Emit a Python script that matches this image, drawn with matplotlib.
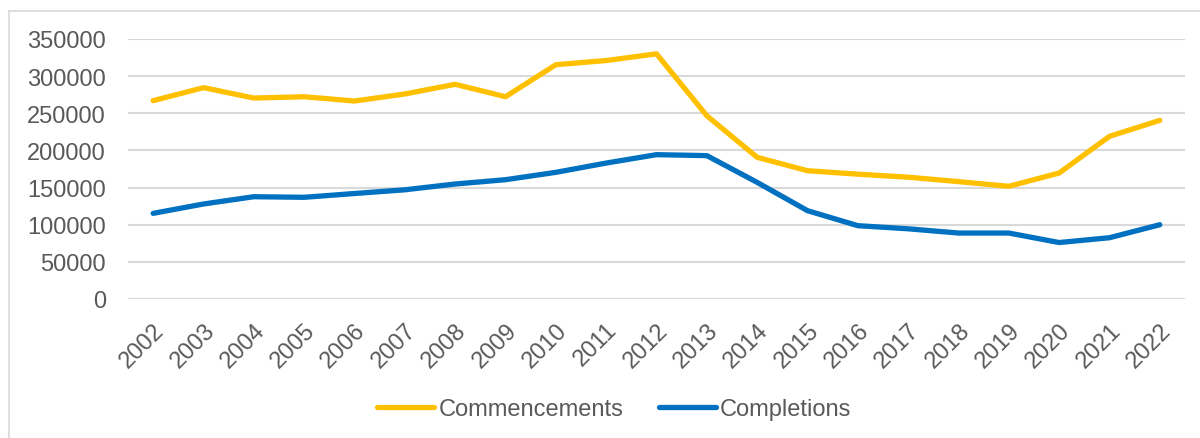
import matplotlib.pyplot as plt
from matplotlib.lines import Line2D

years = [str(y) for y in range(2002, 2023)]
commencements = [267000, 284500, 270500, 272300, 266500, 276000, 289000, 272300, 315400,
                 321000, 330000, 246700, 190700, 172700, 168000, 164000, 158000, 151700,
                 169600, 219000, 240500]
completions = [115300, 127900, 137700, 136900, 142000, 147000, 154800, 160600, 170500,
               183000, 194300, 193000, 157000, 118900, 98700, 94500, 88800, 88800,
               76000, 82500, 100000]

plt.rcParams["font.family"] = ["Liberation Sans", "DejaVu Sans"]
TXT = "#595959"

fig = plt.figure(figsize=(12, 4.39), dpi=100)
ax = fig.add_axes([128 / 1200, 1 - 300 / 439, (1185 - 128) / 1200, 260 / 439])

x = list(range(len(years)))
ax.plot(x, commencements, color="#FFC000", lw=3.8, solid_capstyle="round", label="Commencements")
ax.plot(x, completions, color="#0070C0", lw=3.8, solid_capstyle="round", label="Completions")

ax.set_xlim(-0.5, len(years) - 0.5)
ax.set_ylim(0, 350000)
ax.set_yticks(range(0, 350001, 50000))
ax.set_yticklabels([str(v) for v in range(0, 350001, 50000)], fontsize=17, color=TXT)
ax.set_xticks(x)
ax.set_xticklabels(years, fontsize=17, color=TXT, rotation=45, ha="right", va="top",
                   rotation_mode="anchor")
ax.tick_params(axis="x", length=0, pad=14)
ax.tick_params(axis="y", length=0, pad=16)
ax.grid(axis="y", color="#D9D9D9", lw=1.5)
ax.set_axisbelow(True)
for s in ax.spines.values():
    s.set_visible(False)

handles = [Line2D([], [], color="#FFC000", lw=3.8, solid_capstyle="round"),
           Line2D([], [], color="#0070C0", lw=3.8, solid_capstyle="round")]
fig.legend(handles, ["Commencements", "Completions"], loc="center", ncol=2,
           bbox_to_anchor=(0.512, 1 - 410 / 439), frameon=False, fontsize=17,
           labelcolor=TXT, handlelength=2.4, handletextpad=0.2, columnspacing=1.5)

# outer chart border (top and left visible)
fig.add_artist(Line2D([9 / 1200, 9 / 1200], [0, 1 - 12 / 439], color="#D9D9D9", lw=1.2,
                      transform=fig.transFigure))
fig.add_artist(Line2D([9 / 1200, 1], [1 - 12 / 439, 1 - 12 / 439], color="#D9D9D9", lw=1.2,
                      transform=fig.transFigure))

fig.savefig("out.png", dpi=100)
